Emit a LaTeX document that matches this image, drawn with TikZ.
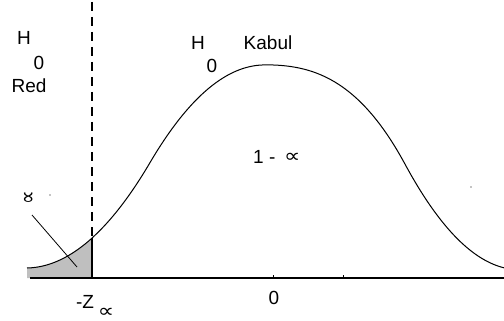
\documentclass[tikz,border=0pt]{standalone}
\usepackage{fontspec}
\setmainfont{Liberation Sans}
\newfontfamily\symfont{DejaVu Sans}
\begin{document}
\begin{tikzpicture}[x=1pt,y=-1pt,
  lbl/.style={inner sep=0pt, font=\fontsize{19}{21}\selectfont},
  alf/.style={inner sep=0pt, font=\fontsize{19}{21}\symfont, xscale=1.2},
  curveline/.style={line width=1pt},
  axisline/.style={line width=2pt},
  dashline/.style={line width=1.4pt, dash pattern=on 9pt off 6pt},
  shade/.style={fill=black!25},
  stray/.style={fill=black, inner sep=0pt, minimum size=1.4pt, circle}]
\useasboundingbox (0,0) rectangle (504,321);
% shaded tail
\fill[shade] plot[domain=27:92, samples=30] (\x, {268 - (0.02*(\x-27) + 0.88*(\x-27)*(\x-27)/130)}) -- (92,278) -- (27,278) -- cycle;
% curve
\draw[curveline, line join=round]
  plot[domain=27:92, samples=30] (\x, {268 - (0.02*(\x-27) + 0.88*(\x-27)*(\x-27)/130)})
  -- plot[domain=92:150, samples=30] (\x, {238 - (0.9*(\x-92) + 0.8*(\x-92)*(\x-92)/116)})
  -- plot[domain=150:265, samples=50] (\x, {162.6 - 1.7/230*(13225 - (265-\x)*(265-\x))})
  -- plot[domain=265:405, samples=60] (\x, {64.85 + 259*(0.15*((\x-265)/140)^2 + 0.23333*((\x-265)/140)^3)})
  -- plot[domain=405:504, samples=40] (\x, {164.1 + 1.85*(\x-405) - 1.605*(\x-405)*(\x-405)/198});
% axis
\coordinate (axL) at (30,278);
\coordinate (axR) at (504,278);
\draw[axisline] (axL) -- (axR);
% critical line
\coordinate (zb) at (92,278);
\coordinate (zt) at (92,238);
\draw[axisline] (zb) -- (zt);
\coordinate (dt) at (92,2);
\coordinate (db) at (92,237);
\draw[dashline] (dt) -- (db);
% ticks
\coordinate (t1a) at (273,278); \coordinate (t1b) at (273,275);
\coordinate (t2a) at (343,278); \coordinate (t2b) at (343,275);
\draw[line width=1pt] (t1a) -- (t1b);
\draw[line width=1pt] (t2a) -- (t2b);
% labels
\node[lbl] (h0a) at (24,38) {H};
\node[lbl] (h0asub) at (39,63) {0};
\node[lbl] (red) at (29,86) {Red};
\node[lbl] (h0b) at (198,43) {H};
\node[lbl] (h0bsub) at (212,66) {0};
\node[lbl] (kabul) at (268,43) {Kabul};
\node[lbl, anchor=west] (one) at (253,157) {1 -};
\node[alf, anchor=west] (onealf) at (284,158) {∝};
\node[lbl] (mz) at (85,302) {-Z};
\node[alf] (mzsub) at (106,313) {∝};
\node[alf, rotate=90] (alpha) at (30,198) {∝};
\node[lbl] (zero) at (274,298) {0};
% leader line
\coordinate (la) at (32,215);
\coordinate (lb) at (77,267);
\draw[line width=0.8pt] (la) -- (lb);
% stray dots
\node[stray] (s1) at (50,195) {};
\node[stray] (s2) at (471,187) {};
\end{tikzpicture}
\end{document}
